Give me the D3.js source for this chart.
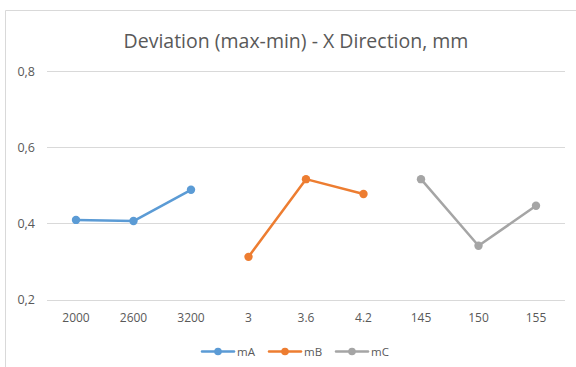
<!DOCTYPE html>
<html>
<head>
<meta charset="utf-8">
<script src="https://cdn.jsdelivr.net/npm/d3@7"></script>
<style>
  html, body { margin: 0; padding: 0; background: #fff; }
  svg { display: block; }
  text { font-family: "Open Sans", "Noto Sans", sans-serif; fill: #595959; }
</style>
</head>
<body>
<svg id="chart" width="576" height="367"></svg>
<script>
const titleText = "Deviation (max-min) - X Direction, mm";
const categories = ["2000", "2600", "3200", "3", "3.6", "4.2", "145", "150", "155"];
const seriesNames = ["mA", "mB", "mC"];
const seriesColors = ["#5B9BD5", "#ED7D31", "#A5A5A5"];
const mAValues = [0.409, 0.406, 0.488];
const mBValues = [0.312, 0.516, 0.477];
const mCValues = [0.516, 0.341, 0.446];
const mACats = ["2000", "2600", "3200"];
const mBCats = ["3", "3.6", "4.2"];
const mCCats = ["145", "150", "155"];
const yTicks = [0.2, 0.4, 0.6, 0.8];

const series = [
  { name: seriesNames[0], color: seriesColors[0], pts: mACats.map((c, i) => ({ c, v: mAValues[i] })) },
  { name: seriesNames[1], color: seriesColors[1], pts: mBCats.map((c, i) => ({ c, v: mBValues[i] })) },
  { name: seriesNames[2], color: seriesColors[2], pts: mCCats.map((c, i) => ({ c, v: mCValues[i] })) }
];

const svg = d3.select("#chart");

// chart border
svg.append("path")
  .attr("d", "M5.5,367 L5.5,10.5 L576,10.5")
  .attr("fill", "none")
  .attr("stroke", "#d9d9d9")
  .attr("stroke-width", 1);

const x = d3.scaleBand().domain(categories).range([47.25, 564.75]);
const y = d3.scaleLinear().domain([0.2, 0.8]).range([299.5, 71]);

// gridlines
svg.append("g").selectAll("line").data(yTicks).join("line")
  .attr("x1", 47).attr("x2", 565)
  .attr("y1", d => Math.round(y(d)) + 0.5).attr("y2", d => Math.round(y(d)) + 0.5)
  .attr("stroke", "#d9d9d9").attr("stroke-width", 1);

// y axis labels
const yAxis = d3.axisLeft(y).tickValues(yTicks).tickSize(0).tickPadding(0)
  .tickFormat(d => d3.format(".1f")(d).replace(".", ","));
const gy = svg.append("g").attr("transform", "translate(35,0)").call(yAxis);
gy.select(".domain").remove();
gy.selectAll("text").attr("font-size", 12.5).attr("fill", "#595959")
  .attr("font-family", "'Open Sans', sans-serif");

// x axis labels
const xAxis = d3.axisBottom(x).tickSize(0).tickPadding(0);
const gx = svg.append("g").attr("transform", "translate(0,313)").call(xAxis);
gx.select(".domain").remove();
gx.selectAll("text").attr("font-size", 12).attr("fill", "#595959")
  .attr("font-family", "'Open Sans', sans-serif");

// lines
const line = d3.line().x(d => x(d.c) + x.bandwidth() / 2).y(d => y(d.v));
const gs = svg.append("g");
series.forEach(s => {
  gs.append("path").datum(s.pts)
    .attr("d", line)
    .attr("fill", "none")
    .attr("stroke", s.color)
    .attr("stroke-width", 2.5)
    .attr("stroke-linejoin", "round")
    .attr("stroke-linecap", "round");
  gs.selectAll(null).data(s.pts).join("circle")
    .attr("cx", d => x(d.c) + x.bandwidth() / 2)
    .attr("cy", d => y(d.v))
    .attr("r", 4.2)
    .attr("fill", s.color);
});

// title
svg.append("text")
  .attr("x", 296).attr("y", 48)
  .attr("text-anchor", "middle")
  .attr("font-size", 19.5)
  .text(titleText);

// legend
const legendX = [202, 269, 336];
const legendY = 351.5;
series.forEach((s, i) => {
  const g = svg.append("g").attr("transform", `translate(${legendX[i]},${legendY})`);
  g.append("line").attr("x1", 0).attr("x2", 32).attr("y1", 0).attr("y2", 0)
    .attr("stroke", s.color).attr("stroke-width", 2.5).attr("stroke-linecap", "round");
  g.append("circle").attr("cx", 16).attr("cy", 0).attr("r", 3.8).attr("fill", s.color);
  g.append("text").attr("x", 35).attr("y", 4).attr("font-size", 11.5).text(s.name);
});
</script>
</body>
</html>
